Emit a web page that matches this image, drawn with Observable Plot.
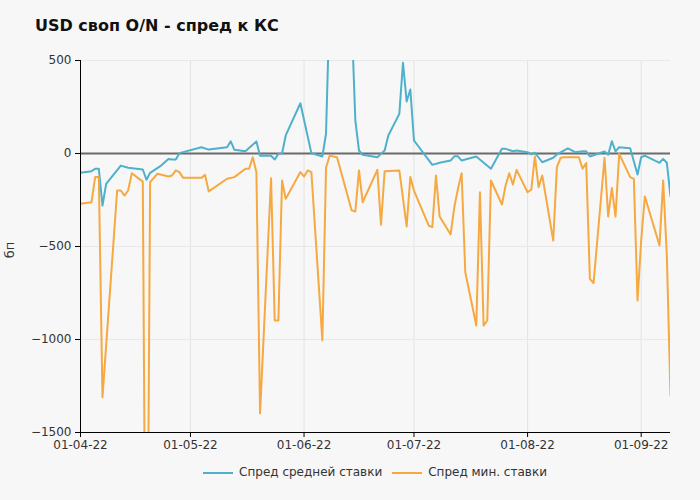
<!DOCTYPE html>
<html><head><meta charset="utf-8">
<script src="https://cdn.jsdelivr.net/npm/d3@7"></script>
<script src="https://cdn.jsdelivr.net/npm/@observablehq/plot@0.6"></script>
<style>
html,body{margin:0;padding:0;background:#f7f7f7;font-family:"DejaVu Sans",Verdana,sans-serif;}
#wrap{position:relative;width:700px;height:500px;background:#f7f7f7;overflow:hidden;}
#title{position:absolute;left:35px;top:16px;font-size:16px;font-weight:bold;color:#111;white-space:nowrap;}
#ylab{position:absolute;left:0px;top:240px;width:20px;height:20px;font-size:13px;color:#333;transform:rotate(-90deg);text-align:center;line-height:20px;}
#legend{position:absolute;top:465px;left:80px;width:590px;text-align:center;font-size:12px;color:#333;white-space:nowrap;}
.sw{display:inline-block;width:30px;height:2px;vertical-align:middle;margin-right:6px;}
.item{display:inline-block;margin:0 5px;}
#chart{position:absolute;left:0;top:0;}
</style>
</head><body>
<div id="wrap">
  <div id="chart"></div>
  <div id="title">USD своп O/N - спред к КС</div>
  <div id="ylab">бп</div>
  <div id="legend"></div>
</div>
<script>
const seriesNames = ["Спред средней ставки", "Спред мин. ставки"];
const seriesColors = ["#4fb0cc", "#f5a940"];

const avgDates = ["2022-04-01","2022-04-04","2022-04-05","2022-04-06","2022-04-07","2022-04-08","2022-04-12","2022-04-14","2022-04-18","2022-04-19","2022-04-20","2022-04-23","2022-04-25","2022-04-26","2022-04-27","2022-04-28","2022-05-04","2022-05-06","2022-05-11","2022-05-12","2022-05-13","2022-05-16","2022-05-19","2022-05-20","2022-05-23","2022-05-24","2022-05-25","2022-05-26","2022-05-27","2022-05-31","2022-06-03","2022-06-06","2022-06-07","2022-06-08","2022-06-11","2022-06-14","2022-06-15","2022-06-16","2022-06-17","2022-06-21","2022-06-23","2022-06-24","2022-06-27","2022-06-28","2022-06-29","2022-06-30","2022-07-01","2022-07-06","2022-07-08","2022-07-11","2022-07-12","2022-07-13","2022-07-14","2022-07-18","2022-07-22","2022-07-25","2022-07-26","2022-07-28","2022-07-29","2022-08-01","2022-08-02","2022-08-03","2022-08-05","2022-08-08","2022-08-09","2022-08-12","2022-08-14","2022-08-16","2022-08-17","2022-08-18","2022-08-22","2022-08-23","2022-08-24","2022-08-25","2022-08-26","2022-08-29","2022-08-31","2022-09-01","2022-09-02","2022-09-06","2022-09-07","2022-09-08","2022-09-09"];
const avgValues = [-104,-95,-82,-82,-280,-163,-65,-77,-86,-141,-104,-65,-29,-32,-32,2,34,21,34,65,20,12,65,-12,-12,-32,-2,0,97,270,2,-16,106,825,1400,720,177,16,-7,-20,16,97,213,488,280,344,70,-61,-50,-38,-15,-15,-38,-16,-82,25,25,12,16,7,-5,4,-47,-23,-5,28,7,12,12,-16,11,-7,66,11,34,28,-113,-20,-11,-50,-29,-50,-230];

const minDates = ["2022-04-01","2022-04-04","2022-04-05","2022-04-06","2022-04-07","2022-04-11","2022-04-12","2022-04-13","2022-04-14","2022-04-15","2022-04-18","2022-04-19","2022-04-20","2022-04-22","2022-04-25","2022-04-26","2022-04-27","2022-04-28","2022-04-29","2022-05-04","2022-05-05","2022-05-06","2022-05-11","2022-05-13","2022-05-16","2022-05-17","2022-05-18","2022-05-19","2022-05-20","2022-05-23","2022-05-24","2022-05-25","2022-05-26","2022-05-27","2022-05-31","2022-06-01","2022-06-02","2022-06-03","2022-06-06","2022-06-07","2022-06-08","2022-06-09","2022-06-10","2022-06-14","2022-06-15","2022-06-16","2022-06-17","2022-06-21","2022-06-22","2022-06-23","2022-06-27","2022-06-29","2022-06-30","2022-07-01","2022-07-05","2022-07-06","2022-07-07","2022-07-08","2022-07-11","2022-07-12","2022-07-13","2022-07-14","2022-07-15","2022-07-18","2022-07-19","2022-07-20","2022-07-21","2022-07-22","2022-07-25","2022-07-26","2022-07-27","2022-07-28","2022-07-29","2022-08-01","2022-08-02","2022-08-03","2022-08-04","2022-08-05","2022-08-08","2022-08-09","2022-08-10","2022-08-11","2022-08-15","2022-08-16","2022-08-17","2022-08-18","2022-08-19","2022-08-22","2022-08-23","2022-08-24","2022-08-25","2022-08-26","2022-08-29","2022-08-30","2022-08-31","2022-09-01","2022-09-02","2022-09-06","2022-09-07","2022-09-08","2022-09-09"];
const minValues = [-270,-262,-127,-127,-1310,-199,-199,-226,-199,-106,-151,-3200,-154,-109,-124,-118,-91,-100,-131,-131,-115,-204,-136,-127,-82,-82,-20,-100,-1396,-133,-898,-898,-145,-244,-100,-124,-91,-100,-1005,-77,-11,-16,-20,-306,-312,-91,-262,-88,-383,-95,-91,-392,-127,-199,-387,-396,-118,-339,-435,-289,-190,-106,-638,-925,-208,-925,-898,-145,-274,-172,-106,-167,-88,-208,-195,-16,-181,-118,-468,-73,-23,-20,-20,-82,-52,-674,-697,-23,-339,-185,-339,-2,-127,-136,-790,-468,-231,-495,-145,-548,-1301];

const xTickDates = ["2022-04-01","2022-05-01","2022-06-01","2022-07-01","2022-08-01","2022-09-01"];
const yTickValues = [500, 0, -500, -1000, -1500];
const xDomain = ["2022-04-01", "2022-09-09"];
const yDomain = [-1500, 500];

const parse = d3.utcParse("%Y-%m-%d");
const avg = avgDates.map((d, i) => ({date: parse(d), value: avgValues[i]}));
const mn = minDates.map((d, i) => ({date: parse(d), value: minValues[i]}));
const xt = xTickDates.map(parse);
const fmtX = d3.utcFormat("%d-%m-%y");
const fmtY = d3.format("d");

const chart = Plot.plot({
  width: 700,
  height: 460,
  marginTop: 60,
  marginBottom: 28,
  marginLeft: 80,
  marginRight: 30,
  style: {background: "transparent", fontFamily: "'DejaVu Sans', Verdana, sans-serif", fontSize: "12px", color: "#333"},
  x: {type: "utc", domain: xDomain.map(parse), label: null},
  y: {domain: yDomain, label: null},
  marks: [
    Plot.gridX(xt, {stroke: "#e3e3e3", strokeOpacity: 1, strokeWidth: 1}),
    Plot.gridY(yTickValues, {stroke: "#e8e8e8", strokeOpacity: 1, strokeWidth: 1}),
    Plot.ruleY([0], {stroke: "#6b6b6b", strokeWidth: 2}),
    Plot.line(avg, {x: "date", y: "value", stroke: seriesColors[0], strokeWidth: 2, clip: true}),
    Plot.line(mn, {x: "date", y: "value", stroke: seriesColors[1], strokeWidth: 2, clip: true}),
    Plot.axisX(xt, {tickFormat: fmtX, tickSize: 5, tickPadding: 3, stroke: "#000", fill: "#333", label: null}),
    Plot.axisY(yTickValues, {tickFormat: fmtY, tickSize: 5, tickPadding: 4, stroke: "#000", fill: "#333", label: null}),
    Plot.ruleX([parse(xDomain[0])], {stroke: "#000", strokeWidth: 1}),
    Plot.ruleY([yDomain[0]], {stroke: "#000", strokeWidth: 1})
  ]
});
document.getElementById("chart").appendChild(chart);

const legend = document.getElementById("legend");
seriesNames.forEach((name, i) => {
  const item = document.createElement("span");
  item.className = "item";
  const sw = document.createElement("span");
  sw.className = "sw";
  sw.style.background = seriesColors[i];
  item.appendChild(sw);
  item.appendChild(document.createTextNode(name));
  legend.appendChild(item);
});
</script>
</body></html>
